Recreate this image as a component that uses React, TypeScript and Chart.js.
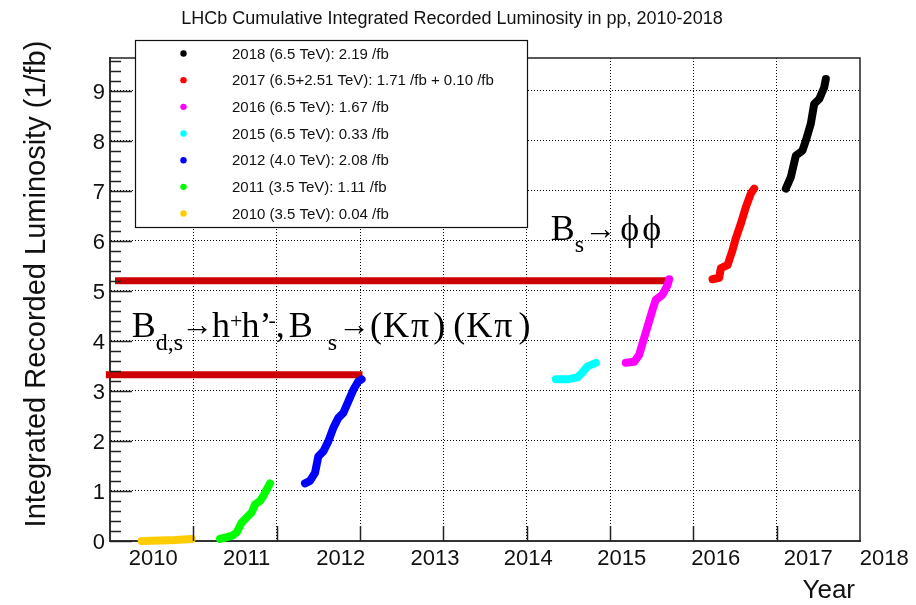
import { useEffect, useRef } from "react";
import { Chart, registerables } from "chart.js";

Chart.register(...registerables);

// Cumulative recorded luminosity per running period (x in axis units, one unit per major grid step)
const time2010 = [0.38, 0.6, 0.78, 0.98];
const lumi2010 = [0.0, 0.01, 0.02, 0.04];

const time2011 = [1.32, 1.46, 1.52, 1.58, 1.64, 1.7, 1.74, 1.8, 1.84, 1.92];
const lumi2011 = [0.04, 0.1, 0.17, 0.37, 0.47, 0.57, 0.73, 0.8, 0.9, 1.15];

const time2012 = [2.34, 2.4, 2.46, 2.5, 2.56, 2.62, 2.68, 2.74, 2.8, 2.86, 2.92, 2.98, 3.02];
const lumi2012 = [1.15, 1.2, 1.36, 1.69, 1.79, 1.99, 2.26, 2.46, 2.56, 2.79, 3.02, 3.19, 3.23];

const time2015 = [5.35, 5.49, 5.61, 5.67, 5.73, 5.83];
const lumi2015 = [3.23, 3.23, 3.27, 3.37, 3.49, 3.56];

const time2016 = [6.19, 6.29, 6.35, 6.39, 6.45, 6.51, 6.55, 6.63, 6.69, 6.71];
const lumi2016 = [3.56, 3.58, 3.72, 3.95, 4.28, 4.62, 4.82, 4.92, 5.11, 5.23];

const time2017 = [7.23, 7.31, 7.33, 7.41, 7.47, 7.51, 7.57, 7.63, 7.69, 7.73];
const lumi2017 = [5.23, 5.26, 5.45, 5.51, 5.81, 6.05, 6.34, 6.67, 6.94, 7.04];

const time2018 = [8.11, 8.17, 8.23, 8.31, 8.35, 8.41, 8.45, 8.51, 8.57, 8.59];
const lumi2018 = [7.04, 7.27, 7.7, 7.8, 8.0, 8.34, 8.73, 8.83, 9.06, 9.23];

// Legend entries, top to bottom
const seasonNames = [
  "2018 (6.5 TeV): 2.19 /fb",
  "2017 (6.5+2.51 TeV): 1.71 /fb + 0.10 /fb",
  "2016 (6.5 TeV): 1.67 /fb",
  "2015 (6.5 TeV): 0.33 /fb",
  "2012 (4.0 TeV): 2.08 /fb",
  "2011 (3.5 TeV): 1.11 /fb",
  "2010 (3.5 TeV): 0.04 /fb",
];
const seasonColors = ["#000000", "#ff0000", "#ff00ff", "#00ffff", "#0000ff", "#00ff00", "#ffcc00"];
const seasonTimes = [time2018, time2017, time2016, time2015, time2012, time2011, time2010];
const seasonLumis = [lumi2018, lumi2017, lumi2016, lumi2015, lumi2012, lumi2011, lumi2010];

// Axis labelling
const yearLabels = ["2010", "2011", "2012", "2013", "2014", "2015", "2016", "2017", "2018"];
const yearLabelAt = [0.52, 1.64, 2.77, 3.9, 5.02, 6.14, 7.27, 8.38, 9.29];
const yearGridAt = [1, 2, 3, 4, 5, 6, 7, 8];
const lumiTicks = [0, 1, 2, 3, 4, 5, 6, 7, 8, 9];
const lumiGridAt = [1, 2, 3, 4, 5, 6, 7, 8, 9];

// Analysis luminosity thresholds
const lowBarTime = [-0.05, 3.03];
const lowBarLumi = 3.32;
const highBarTime = [0.06, 6.7];
const highBarLumi = 5.2;

const SANS = '"Liberation Sans", Arial, Helvetica, sans-serif';
const SERIF = '"Liberation Serif", "Times New Roman", "DejaVu Serif", serif';
const INK = "#111";

type Run = { t: string; size: number; dy: number; gap?: number };

const decayHH: Run[] = [
  { t: "B", size: 36, dy: 0 },
  { t: "d,s", size: 24, dy: 13 },
  { t: "\u2192", size: 32, dy: -2, gap: -2 },
  { t: "h", size: 36, dy: 0, gap: -1 },
  { t: "+", size: 22, dy: -9 },
  { t: "h", size: 36, dy: 0, gap: -1 },
  { t: "\u2019", size: 36, dy: 0 },
  { t: "-", size: 22, dy: -10, gap: -3 },
  { t: ",", size: 36, dy: 0 },
  { t: "B", size: 36, dy: 0, gap: 4 },
  { t: "s", size: 24, dy: 13, gap: 15 },
  { t: "\u2192", size: 32, dy: -2, gap: 1 },
  { t: "(", size: 36, dy: 0, gap: 0 },
  { t: "K", size: 36, dy: 0, gap: 1 },
  { t: "\u03c0", size: 36, dy: 0, gap: 2 },
  { t: ")", size: 36, dy: 0, gap: 4 },
  { t: "(", size: 36, dy: 0, gap: 8 },
  { t: "K", size: 36, dy: 0, gap: 1 },
  { t: "\u03c0", size: 36, dy: 0, gap: 2 },
  { t: ")", size: 36, dy: 0, gap: 6 },
];

const decayPhiPhi: Run[] = [
  { t: "B", size: 36, dy: 0 },
  { t: "s", size: 24, dy: 12 },
  { t: "\u2192", size: 32, dy: -1, gap: 0 },
  { t: "\u03d5", size: 36, dy: 0, gap: 4 },
  { t: "\u03d5", size: 36, dy: 0, gap: 3 },
];

function drawRuns(ctx: CanvasRenderingContext2D, x0: number, y0: number, runs: Run[]) {
  let x = x0;
  ctx.textAlign = "left";
  ctx.textBaseline = "alphabetic";
  for (const r of runs) {
    x += r.gap ?? 0;
    ctx.font = `${r.size}px ${SERIF}`;
    ctx.fillText(r.t, x, y0 + r.dy);
    x += ctx.measureText(r.t).width;
  }
}

const rootStyle = {
  id: "rootStyle",
  afterDatasetsDraw(chart: any) {
    const ctx: CanvasRenderingContext2D = chart.ctx;
    const { left, right, top, bottom } = chart.chartArea;
    const xs = chart.scales.x;
    const ys = chart.scales.y;

    ctx.save();
    // frame (top and right sides)
    ctx.strokeStyle = "#222";
    ctx.lineWidth = 1.5;
    ctx.beginPath();
    ctx.moveTo(left, top);
    ctx.lineTo(right, top);
    ctx.lineTo(right, bottom);
    ctx.stroke();

    // y ticks, drawn inward
    for (let k = 0; k * 0.2 <= ys.max + 1e-9; k++) {
      const v = k * 0.2;
      const py = Math.round(ys.getPixelForValue(v)) + 0.5;
      const len = k % 5 === 0 ? 22 : 11;
      ctx.beginPath();
      ctx.moveTo(left, py);
      ctx.lineTo(left + len, py);
      ctx.stroke();
    }
    // x ticks
    for (const v of yearGridAt) {
      const px = Math.round(xs.getPixelForValue(v)) + 0.5;
      ctx.beginPath();
      ctx.moveTo(px, bottom);
      ctx.lineTo(px, bottom - 15);
      ctx.stroke();
    }

    // legend box
    const lx = left + 25;
    const ly = top - 18;
    const lw = 392;
    const lh = 187;
    ctx.fillStyle = "#fff";
    ctx.fillRect(lx, ly, lw, lh);
    ctx.strokeStyle = "#111";
    ctx.lineWidth = 1.2;
    ctx.strokeRect(lx + 0.5, ly + 0.5, lw, lh);
    ctx.font = `15px ${SANS}`;
    ctx.textAlign = "left";
    ctx.textBaseline = "middle";
    seasonNames.forEach((name, i) => {
      const cy = ly + 13.5 + i * 26.67;
      ctx.fillStyle = seasonColors[i];
      ctx.beginPath();
      ctx.arc(lx + 48.5, cy, 3.2, 0, Math.PI * 2);
      ctx.fill();
      ctx.fillStyle = INK;
      ctx.fillText(name, lx + 97, cy + 1);
    });

    // decay-channel annotations
    ctx.fillStyle = "#000";
    drawRuns(ctx, xs.getPixelForValue(0.26), ys.getPixelForValue(4.08), decayHH);
    drawRuns(ctx, xs.getPixelForValue(5.29), ys.getPixelForValue(6.02), decayPhiPhi);

    // y tick labels
    ctx.fillStyle = INK;
    ctx.font = `22px ${SANS}`;
    ctx.textAlign = "right";
    ctx.textBaseline = "middle";
    for (const v of lumiTicks) {
      ctx.fillText(String(v), left - 5, ys.getPixelForValue(v) + 2);
    }
    // x labels
    ctx.textAlign = "center";
    ctx.textBaseline = "alphabetic";
    yearLabels.forEach((lab, i) => {
      ctx.fillText(lab, xs.getPixelForValue(yearLabelAt[i]), bottom + 24);
    });

    // axis titles
    ctx.font = `26px ${SANS}`;
    ctx.textAlign = "right";
    ctx.fillText("Year", right - 5, bottom + 57);

    ctx.save();
    ctx.translate(45, 284);
    ctx.rotate(-Math.PI / 2);
    ctx.font = `29px ${SANS}`;
    ctx.textAlign = "center";
    ctx.textBaseline = "alphabetic";
    ctx.fillText("Integrated Recorded Luminosity (1/fb)", 0, 0);
    ctx.restore();

    // title
    ctx.font = `18px ${SANS}`;
    ctx.textAlign = "center";
    ctx.textBaseline = "alphabetic";
    ctx.fillText("LHCb Cumulative Integrated Recorded Luminosity in pp, 2010-2018", 452, 24);
    ctx.restore();
  },
};

export default function App() {
  const canvasRef = useRef<HTMLCanvasElement | null>(null);

  useEffect(() => {
    document.body.style.margin = "0";
    const canvas = canvasRef.current;
    if (!canvas) return;

    const seasonSets = seasonNames.map((name, i) => ({
      type: "line" as const,
      label: name,
      data: seasonTimes[i].map((t, j) => ({ x: t, y: seasonLumis[i][j] })),
      borderColor: seasonColors[i],
      backgroundColor: seasonColors[i],
      borderWidth: 8,
      borderCapStyle: "round" as const,
      borderJoinStyle: "round" as const,
      pointRadius: 0,
      tension: 0,
      fill: false,
      clip: false as const,
    }));

    const barSet = (label: string, xsArr: number[], lumi: number) => ({
      type: "line" as const,
      label,
      data: xsArr.map((t) => ({ x: t, y: lumi })),
      borderColor: "#cc0000",
      borderWidth: 7,
      borderCapStyle: "butt" as const,
      pointRadius: 0,
      fill: false,
      clip: false as const,
    });

    const chart = new Chart(canvas, {
      type: "line",
      data: {
        datasets: [
          ...seasonSets,
          barSet("Bd,s to hh threshold", lowBarTime, lowBarLumi),
          barSet("Bs to phiphi threshold", highBarTime, highBarLumi),
        ],
      },
      options: {
        responsive: false,
        animation: false,
        events: [],
        layout: { padding: { left: 110, right: 56, top: 58, bottom: 64 } },
        plugins: {
          legend: { display: false },
          tooltip: { enabled: false },
          title: { display: false },
        },
        scales: {
          x: {
            type: "linear",
            min: 0,
            max: 9,
            afterBuildTicks: (s: any) => {
              s.ticks = yearGridAt.map((v) => ({ value: v }));
            },
            ticks: { display: false },
            grid: { color: "#000", lineWidth: 1, drawTicks: false },
            border: { display: true, color: "#333", width: 2, dash: [1, 2] },
          },
          y: {
            type: "linear",
            min: 0,
            max: 9.65,
            afterBuildTicks: (s: any) => {
              s.ticks = lumiGridAt.map((v) => ({ value: v }));
            },
            ticks: { display: false },
            grid: { color: "#000", lineWidth: 1, drawTicks: false },
            border: { display: true, color: "#333", width: 2, dash: [1, 2] },
          },
        },
      },
      plugins: [rootStyle],
    });

    return () => chart.destroy();
  }, []);

  return (
    <div style={{ width: 916, height: 605, background: "#fff" }}>
      <canvas ref={canvasRef} width={916} height={605} style={{ display: "block" }} />
    </div>
  );
}
